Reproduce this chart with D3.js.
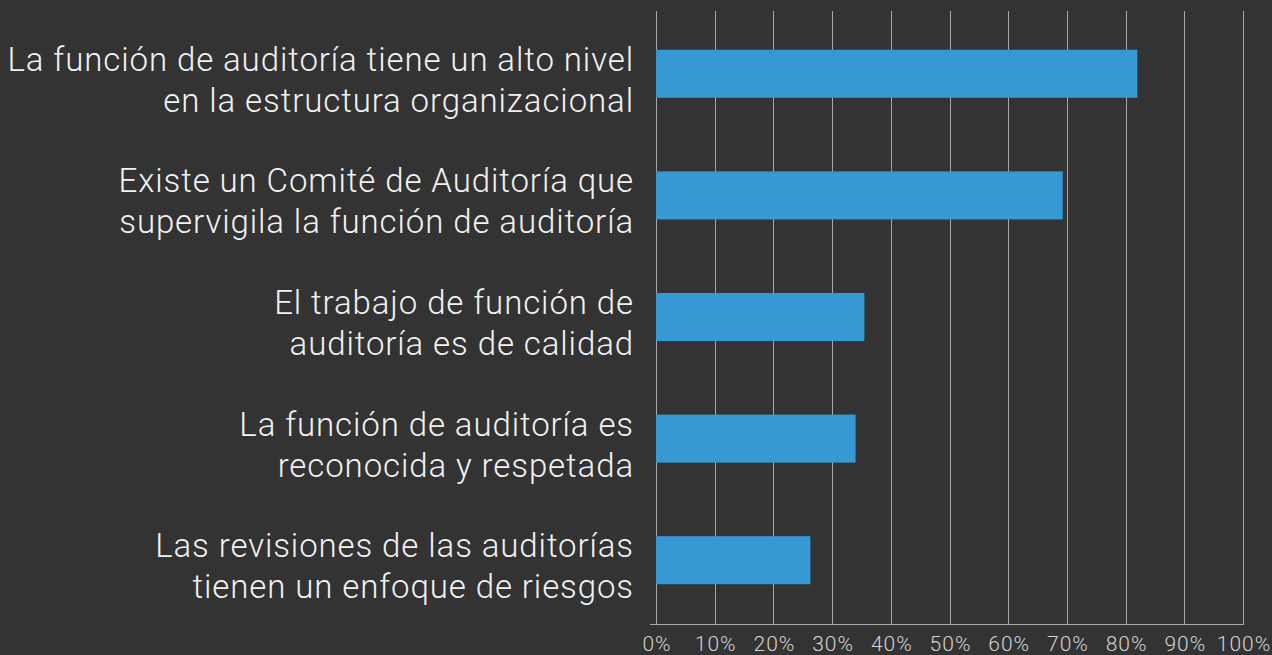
<!DOCTYPE html>
<html lang="es">
<head>
<meta charset="UTF-8">
<title>Auditoría</title>
<script src="https://d3js.org/d3.v7.min.js"></script>
<style>
    body {
        margin: 0;
        padding: 0;
        background: #333333;
        overflow: hidden;
    }
    svg {
        display: block;
        font-family: Roboto, "Noto Sans", sans-serif;
        font-weight: 300;
    }
</style>
</head>
<body>
<svg id="chart"></svg>
<script>
    // datos
    const categories = [
        ["La función de auditoría tiene un alto nivel", "en la estructura organizacional"],
        ["Existe un Comité de Auditoría que", "supervigila la función de auditoría"],
        ["El trabajo de función de", "auditoría es de calidad"],
        ["La función de auditoría es", "reconocida y respetada"],
        ["Las revisiones de las auditorías", "tienen un enfoque de riesgos"]
    ];
    const values = [0.82, 0.693, 0.355, 0.34, 0.263];
    const ticks = [0, 0.1, 0.2, 0.3, 0.4, 0.5, 0.6, 0.7, 0.8, 0.9, 1.0];

    const width = 1272;
    const height = 655;
    const margin = { top: 13, right: 29, bottom: 34, left: 656 };

    const svg = d3.select("#chart")
        .attr("width", width)
        .attr("height", height);

    const x = d3.scaleLinear()
        .domain([0, 1])
        .range([margin.left, width - margin.right]);

    const y = d3.scaleBand()
        .domain(d3.range(categories.length))
        .range([margin.top, height - margin.bottom])
        .paddingInner(0.605)
        .paddingOuter(0.3025);

    const axisY = 624.5;

    // líneas de cuadrícula
    svg.append("g")
        .selectAll("line")
        .data(ticks)
        .enter()
        .append("line")
        .attr("x1", d => Math.round(x(d)) + 0.5)
        .attr("x2", d => Math.round(x(d)) + 0.5)
        .attr("y1", 11)
        .attr("y2", axisY)
        .attr("stroke", "#a8a8a8")
        .attr("stroke-width", 1);

    svg.append("line")
        .attr("x1", x(0) - 6)
        .attr("x2", Math.round(x(1)) + 1)
        .attr("y1", axisY)
        .attr("y2", axisY)
        .attr("stroke", "#a8a8a8")
        .attr("stroke-width", 1);

    // barras
    svg.append("g")
        .selectAll("rect")
        .data(values)
        .enter()
        .append("rect")
        .attr("x", x(0))
        .attr("y", (d, i) => y(i))
        .attr("width", d => x(d) - x(0))
        .attr("height", y.bandwidth())
        .attr("fill", "#3699d3");

    // etiquetas de eje x
    svg.append("g")
        .selectAll("text")
        .data(ticks)
        .enter()
        .append("text")
        .attr("x", d => x(d) + 1)
        .attr("y", 651)
        .attr("text-anchor", "middle")
        .attr("fill", "#d2d2d2")
        .style("font-size", "21px")
        .style("letter-spacing", "1px")
        .text(d => Math.round(d * 100) + "%");

    // etiquetas de categorías
    const labels = svg.append("g")
        .selectAll("text")
        .data(categories)
        .enter()
        .append("text")
        .attr("text-anchor", "end")
        .attr("fill", "#f2f2f2")
        .style("font-size", "33px")
        .style("letter-spacing", "0.9px");

    labels.each(function (d, i) {
        const cy = y(i) + y.bandwidth() / 2;
        const t = d3.select(this);
        d.forEach((line, j) => {
            t.append("tspan")
                .attr("x", 634)
                .attr("y", cy - 3 + j * 41)
                .text(line);
        });
    });
</script>
</body>
</html>
